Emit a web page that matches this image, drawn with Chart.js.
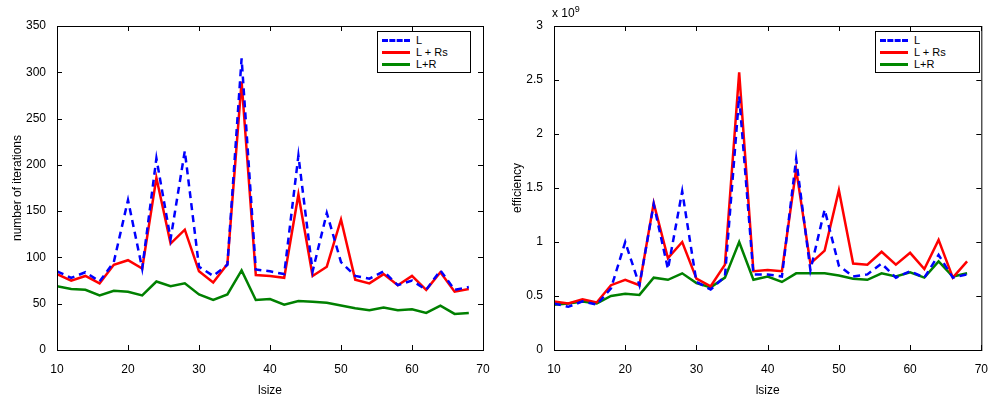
<!DOCTYPE html>
<html><head><script src="https://cdn.jsdelivr.net/npm/chart.js"></script>
<style>body{margin:0;background:#fff;font-family:"Liberation Sans",Arial,sans-serif}
.c{position:absolute;top:0;height:402px}
.lg{position:absolute;border:1px solid #000;background:#fff;font-size:11px;line-height:12px;padding:2px 4px;box-sizing:border-box}
.lg div{display:flex;align-items:center}
.lg span{display:inline-block;width:28px;height:0;margin-right:6px}
</style></head><body>
<div class="c" style="left:0;width:500px"><canvas id="a"></canvas></div>
<div class="c" style="left:500px;width:492px"><canvas id="b"></canvas></div>
<div class="lg" style="left:377px;top:31px;width:94px"><div><span style="border-top:3px dashed #00f"></span>L</div><div><span style="border-top:3px solid #f00"></span>L + Rs</div><div><span style="border-top:3px solid #080"></span>L+R</div></div>
<div class="lg" style="left:875px;top:31px;width:105px"><div><span style="border-top:3px dashed #00f"></span>L</div><div><span style="border-top:3px solid #f00"></span>L + Rs</div><div><span style="border-top:3px solid #080"></span>L+R</div></div>
<div style="position:absolute;left:552px;top:4px;font-size:12px">x 10<sup style="font-size:9px">9</sup></div>
<script>
const lsize=[10,12,14,16,18,20,22,24,26,28,30,32,34,36,38,40,42,44,46,48,50,52,54,56,58,60,62,64,66,68];
const iterL=[85,78,84,74,95,162,88,207,120,215,90,80,92,315,87,85,82,210,85,148,95,80,77,85,70,75,65,86,65,68];
const iterRs=[82,75,80,72,92,97,88,186,115,130,85,73,93,290,81,80,78,168,80,90,141,76,72,82,70,80,65,84,63,66];
const iterR=[69,66,65,59,64,63,59,74,69,72,60,54,60,86,54,55,49,53,52,51,48,45,43,46,43,44,40,48,39,40];
const effL=[0.43,0.40,0.45,0.42,0.57,1.0,0.6,1.35,0.75,1.47,0.63,0.56,0.68,2.35,0.70,0.70,0.68,1.77,0.74,1.3,0.78,0.68,0.70,0.80,0.67,0.73,0.67,0.88,0.67,0.70];
const effRs=[0.45,0.43,0.47,0.44,0.60,0.65,0.60,1.36,0.85,1.0,0.66,0.59,0.79,2.57,0.73,0.74,0.73,1.67,0.80,0.92,1.48,0.80,0.79,0.91,0.79,0.90,0.75,1.02,0.67,0.82];
const effR=[0.42,0.43,0.45,0.43,0.50,0.52,0.51,0.67,0.65,0.71,0.62,0.58,0.67,1.0,0.65,0.68,0.63,0.71,0.71,0.71,0.69,0.66,0.65,0.71,0.68,0.72,0.67,0.82,0.68,0.71];
const EXP=1e9;
const frame={id:'frame',afterDraw(c){const a=c.chartArea,x=c.ctx,sx=c.scales.x,sy=c.scales.y;x.save();x.strokeStyle='#000';x.lineWidth=1;
x.strokeRect(a.left+.5,a.top+.5,a.right-a.left,a.bottom-a.top);x.beginPath();
sx.ticks.forEach(t=>{const p=Math.round(sx.getPixelForValue(t.value))+.5;x.moveTo(p,a.bottom);x.lineTo(p,a.bottom-5);x.moveTo(p,a.top);x.lineTo(p,a.top+5);});
sy.ticks.forEach(t=>{const p=Math.round(sy.getPixelForValue(t.value))+.5;x.moveTo(a.left,p);x.lineTo(a.left+5,p);x.moveTo(a.right,p);x.lineTo(a.right-5,p);});
x.stroke();x.restore();}};
function mk(id,L,Rs,R,ymax,step,ytitle,ylw,rp,fmt){
 const pts=arr=>arr.map((v,i)=>({x:lsize[i],y:v}));
 new Chart(document.getElementById(id),{type:'line',
 data:{datasets:[
  {data:pts(L),borderColor:'#0000ff',borderDash:[7,5],borderWidth:2.5},
  {data:pts(Rs),borderColor:'#ff0000',borderWidth:2.5},
  {data:pts(R),borderColor:'#008000',borderWidth:2.5}]},
 options:{responsive:true,maintainAspectRatio:false,animation:false,
  elements:{point:{radius:0},line:{tension:0}},
  layout:{padding:{left:6,right:rp,top:26,bottom:0}},
  plugins:{legend:{display:false},tooltip:{enabled:false}},
  scales:{
   x:{type:'linear',min:10,max:70,ticks:{stepSize:10,color:'#000',font:{size:12,family:'Liberation Sans'},padding:4},
      grid:{display:false},border:{display:false},
      title:{display:true,text:'lsize',color:'#000',font:{size:12,family:'Liberation Sans'},padding:{top:2}},
      afterFit(s){s.height=52;}},
   y:{min:0,max:ymax,ticks:{stepSize:step,color:'#000',font:{size:12,family:'Liberation Sans'},callback:fmt},
      grid:{display:false},border:{display:false},
      title:{display:true,text:ytitle,color:'#000',font:{size:12,family:'Liberation Sans'},padding:{bottom:4}},
      afterFit(s){s.width=ylw;}}}},
 plugins:[frame]});
}
mk('a',iterL,iterRs,iterR,350,50,'number of iterations',51,17,v=>v);
mk('b',effL.map(v=>v*EXP),effRs.map(v=>v*EXP),effR.map(v=>v*EXP),3*EXP,0.5*EXP,'efficiency',48,6,v=>String(v/EXP));
</script></body></html>
